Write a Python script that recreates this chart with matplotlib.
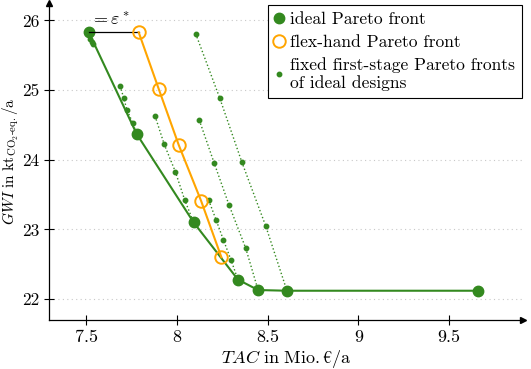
import matplotlib
matplotlib.use("Agg")
from matplotlib import pyplot as plt

# ideal Pareto front
ideal_tac = [7.515, 7.779, 8.093, 8.337, 8.448, 8.607, 9.658]
ideal_gwi = [25.83, 24.37, 23.10, 22.28, 22.13, 22.12, 22.12]

# flex-hand Pareto front
flex_tac = [7.790, 7.900, 8.011, 8.134, 8.246]
flex_gwi = [25.83, 25.02, 24.21, 23.41, 22.60]

# fixed first-stage Pareto fronts of the ideal designs
fixed_fronts = [
    ([7.515, 7.521, 7.531, 7.540], [25.83, 25.73, 25.69, 25.66]),
    ([7.688, 7.707, 7.725, 7.757, 7.779], [25.06, 24.89, 24.72, 24.53, 24.37]),
    ([7.880, 7.931, 7.992, 8.044, 8.093], [24.63, 24.22, 23.83, 23.42, 23.10]),
    ([8.176, 8.216, 8.257, 8.299, 8.337], [23.42, 23.14, 22.85, 22.56, 22.28]),
    ([8.124, 8.205, 8.288, 8.380, 8.448], [24.57, 23.96, 23.35, 22.73, 22.13]),
    ([8.104, 8.236, 8.358, 8.490, 8.607], [25.81, 24.89, 23.97, 23.05, 22.12]),
]

xticks = [7.5, 8, 8.5, 9, 9.5]
yticks = [22, 23, 24, 25, 26]

green = '#33891f'
orange = '#ffa500'
fs = 13

plt.rcParams['font.family'] = ['cmr10', 'DejaVu Serif']
plt.rcParams['mathtext.fontset'] = 'cm'
plt.rcParams['axes.formatter.use_mathtext'] = True
plt.rcParams['font.size'] = fs

fig = plt.figure(figsize=(5.31, 3.69), dpi=100)
ax = fig.add_axes([0.0923, 0.1328, 0.8927, 0.8592])

for fx, fy in fixed_fronts:
    ax.plot(fx, fy, ':', color=green, lw=1.0, marker='o', ms=3.2, zorder=2)

ax.plot(ideal_tac, ideal_gwi, '-', color=green, lw=1.5, marker='o', ms=7.5, zorder=3)
ax.plot(flex_tac, flex_gwi, '-', color=orange, lw=1.5, marker='o', ms=9,
        mfc='none', mec=orange, mew=1.4, zorder=4)

# epsilon* distance between both fronts
ax.plot([ideal_tac[0], flex_tac[0]], [ideal_gwi[0], flex_gwi[0]], color='black', lw=0.9, zorder=3)
ax.text((ideal_tac[0] + flex_tac[0]) / 2 - 0.02, ideal_gwi[0] + 0.05, r'$=\varepsilon^*$',
        ha='center', va='bottom', fontsize=fs)

ax.set_xlim(7.296, 9.908)
ax.set_ylim(21.70, 26.25)
ax.set_xticks(xticks)
ax.set_xticklabels(['7.5', '8', '8.5', '9', '9.5'])
ax.set_yticks(yticks)
ax.set_yticklabels([str(t) for t in yticks])
ax.tick_params(direction='inout', length=7, width=0.8, colors='black', labelsize=fs)
ax.tick_params(axis='y', pad=3.5, labelsize=12.5)
ax.grid(axis='y', linestyle=(0, (1, 3)), color='#c8c8c8', lw=0.8)
ax.set_axisbelow(True)

for s in ['top', 'right']:
    ax.spines[s].set_visible(False)
ax.spines['left'].set_linewidth(0.9)
ax.spines['bottom'].set_linewidth(0.9)
ax.plot(1, 0, '>', color='black', ms=4, transform=ax.transAxes, clip_on=False)
ax.plot(0, 1, '^', color='black', ms=4, transform=ax.transAxes, clip_on=False)

ax.set_xlabel(r'$\mathit{TAC}\ \mathrm{in\ Mio.€/a}$', labelpad=2)
ax.set_ylabel(r'$\mathit{GWI}\ \mathrm{in\ kt}_{\mathrm{CO_2\text{-}eq.}}\mathrm{/a}$', fontsize=11)
ax.yaxis.set_label_coords(-0.059, 0.5)

h1, = ax.plot([], [], 'o', color=green, ms=7.5)
h2, = ax.plot([], [], 'o', color=orange, ms=9, mfc='none', mew=1.4)
h3, = ax.plot([], [], 'o', color=green, ms=3.2)
leg = ax.legend([h1, h2, h3],
                ['ideal Pareto front', 'flex-hand Pareto front',
                 'fixed first-stage Pareto fronts\nof ideal designs'],
                loc='upper right', bbox_to_anchor=(0.9975, 0.994), borderaxespad=0,
                fancybox=False, handlelength=0.5, handletextpad=0.35, borderpad=0.4,
                labelspacing=0.42, framealpha=1, edgecolor='black', fontsize=12.6)
leg.get_frame().set_linewidth(0.8)

plt.savefig('out.png', dpi=100)
plt.close()
